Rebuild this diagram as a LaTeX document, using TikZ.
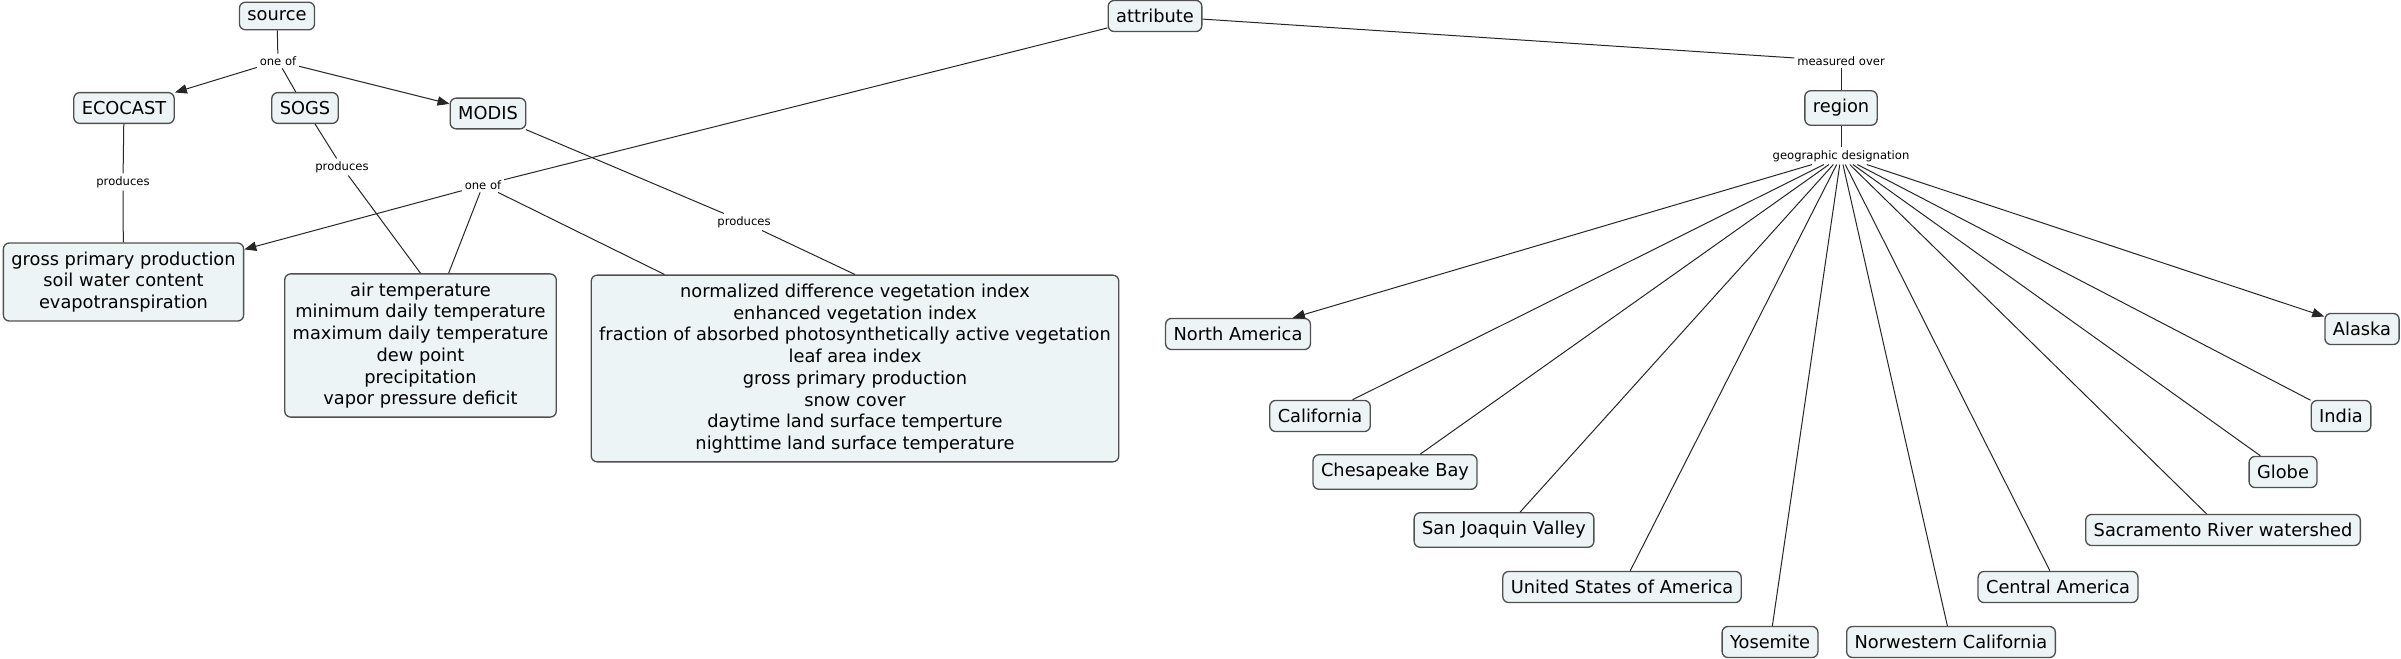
\documentclass[tikz,border=0pt]{standalone}
\usepackage{fontspec}
\setmainfont{DejaVu Sans}
\usetikzlibrary{arrows.meta}

\definecolor{cmapfill}{RGB}{236,244,246}
\definecolor{cmapline}{RGB}{80,80,80}

\tikzset{
    concept/.style={draw=cmapline, line width=1pt, fill=cmapfill, rounded corners=4.5pt,
        inner xsep=6pt, inner ysep=6.5pt, align=center,
        font=\fontsize{13.35}{16.3}\selectfont},
    linkword/.style={inner sep=2pt, font=\fontsize{8.7}{10}\selectfont},
    conn/.style={draw=black!85, line width=0.75pt},
    arr/.style={conn, -{Triangle[length=9pt,width=7pt]}},
}

\begin{document}
\begin{tikzpicture}[x=0.75pt, y=-0.75pt]
    \useasboundingbox (0,0) rectangle (2401,659);

    % Sources
    \node[concept] (source) at (277,16) {source};
    \node[linkword] (oneA) at (278,61) {one of};
    \node[concept] (ecocast) at (124,108) {ECOCAST};
    \node[concept] (sogs) at (305,108) {SOGS};
    \node[concept] (modis) at (488,113.5) {MODIS};

    % Products
    \node[linkword] (prodE) at (123,182) {produces};
    \node[linkword] (prodS) at (342,167) {produces};
    \node[linkword] (prodM) at (744,222) {produces};
    \node[linkword] (oneB) at (483,185) {one of};
    \node[concept] (gpp) at (123.5,282) {gross primary production\\soil water content\\evapotranspiration};
    \node[concept] (met) at (420.5,345.5) {air temperature\\minimum daily temperature\\maximum daily temperature\\dew point\\precipitation\\vapor pressure deficit};
    \node[concept] (modprod) at (855,368.5) {normalized difference vegetation index\\enhanced vegetation index\\fraction of absorbed photosynthetically active vegetation\\leaf area index\\gross primary production\\snow cover\\daytime land surface temperture\\nighttime land surface temperature};

    % Attribute and region
    \node[concept] (attribute) at (1155,16) {attribute};
    \node[linkword] (measured) at (1841,61) {measured over};
    \node[concept] (region) at (1841,108) {region};
    \node[linkword] (geo) at (1841,156) {geographic designation};

    % Regions
    \node[concept] (northam) at (1238,334) {North America};
    \node[concept] (calif) at (1320,416) {California};
    \node[concept] (chesa) at (1395,472) {Chesapeake Bay};
    \node[concept] (sanjoa) at (1504,530) {San Joaquin Valley};
    \node[concept] (usa) at (1622,587) {United States of America};
    \node[concept] (yosem) at (1770,642) {Yosemite};
    \node[concept] (norcal) at (1951,642) {Norwestern California};
    \node[concept] (centam) at (2058,587) {Central America};
    \node[concept] (sacra) at (2223,530) {Sacramento River watershed};
    \node[concept] (globe) at (2283,472) {Globe};
    \node[concept] (india) at (2341,416) {India};
    \node[concept] (alaska) at (2362,329) {Alaska};

    % Connections, left part
    \draw[conn] (source) -- (oneA);
    \draw[arr] (oneA) -- (ecocast);
    \draw[conn] (oneA) -- (sogs);
    \draw[arr] (oneA) -- (modis);
    \draw[conn] (ecocast) -- (prodE);
    \draw[conn] (prodE) -- (gpp);
    \draw[conn] (sogs) -- (prodS);
    \draw[conn] (prodS) -- (met.north);
    \draw[conn] (modis) -- (prodM);
    \draw[conn] (prodM) -- (modprod.north);
    \draw[conn] (attribute) -- (oneB);
    \draw[arr] (oneB) -- (gpp);
    \draw[conn] (oneB) -- (met);
    \draw[conn] (oneB) -- (modprod);

    % Connections, right part
    \draw[conn] (attribute) -- (measured);
    \draw[conn] (measured) -- (region);
    \draw[conn] (region) -- (geo);
    \draw[arr] (geo) -- (northam);
    \draw[arr] (geo) -- (alaska);
    \foreach \r in {calif,chesa,sanjoa,usa,yosem,norcal,centam,sacra,globe,india}
        \draw[conn] (geo) -- (\r);
\end{tikzpicture}
\end{document}
